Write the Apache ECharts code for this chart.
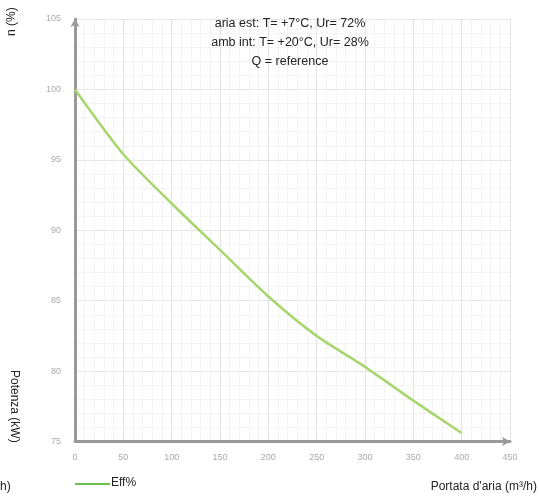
<!DOCTYPE html>
<html>
<head>
<meta charset="utf-8">
<script src="https://cdn.jsdelivr.net/npm/echarts@6/dist/echarts.min.js"></script>
<style>html,body{margin:0;padding:0;background:#fff}#c{width:539px;height:497px}</style>
</head>
<body>
<div id="c"></div>
<script>
const flow = [0, 50, 100, 150, 200, 250, 300, 350, 400];
const effValues = [100, 95.4, 91.9, 88.6, 85.3, 82.5, 80.3, 77.9, 75.6];
const seriesName = 'Eff%';
const infoLines = ['aria est: T= +7°C, Ur= 72%', 'amb int: T= +20°C, Ur= 28%', 'Q = reference'];
const xTitle = "Portata d'aria (m³/h)";
const yTitle = 'n (%)';
const y2Title = 'Potenza (kW)';

const chart = echarts.init(document.getElementById('c'));
const font = 'Liberation Sans, Arial, sans-serif';
chart.setOption({
  animation: false,
  grid: {left: 75, top: 19, width: 435, height: 422.5, containLabel: false},
  xAxis: {
    type: 'value', min: 0, max: 450, interval: 50,
    axisLine: {show: true, symbol: ['none', 'arrow'], symbolSize: [7, 8], lineStyle: {color: '#999', width: 3}},
    axisTick: {show: false},
    axisLabel: {color: '#aaa', fontSize: 9, fontFamily: font, margin: 12},
    splitLine: {show: true, lineStyle: {color: '#e4e4e4', width: 1}},
    minorTick: {show: false, splitNumber: 5},
    minorSplitLine: {show: true, lineStyle: {color: '#f3f3f3', width: 1}}
  },
  yAxis: {
    type: 'value', min: 75, max: 105, interval: 5,
    axisLine: {show: true, symbol: ['none', 'arrow'], symbolSize: [7, 8], lineStyle: {color: '#999', width: 3}},
    axisTick: {show: false},
    axisLabel: {color: '#aaa', fontSize: 9, fontFamily: font, margin: 14},
    splitLine: {show: true, lineStyle: {color: '#e4e4e4', width: 1}},
    minorSplitLine: {show: true, lineStyle: {color: '#f3f3f3', width: 1}}
  },
  series: [{
    name: seriesName, type: 'line', smooth: 0.25, showSymbol: false,
    data: flow.map((f, i) => [f, effValues[i]]),
    lineStyle: {color: '#a8d56e', width: 2.5}
  }],
  graphic: [
    {type: 'text', z: 100, x: 290, y: 14, style: {text: infoLines.join('\n'), textAlign: 'center', lineHeight: 19, fill: '#222', font: '12.5px ' + font}},
    {type: 'text', z: 100, x: 6, y: 36, rotation: Math.PI / 2, style: {text: yTitle, fill: '#222', font: '12px ' + font}},
    {type: 'text', z: 100, x: 20, y: 370, rotation: -Math.PI / 2, style: {text: y2Title, fill: '#222', font: '12px ' + font}},
    {type: 'text', z: 100, x: 0, y: 481, style: {text: 'h)', fill: '#222', font: '12px ' + font}},
    {type: 'line', z: 100, shape: {x1: 75, y1: 484, x2: 110, y2: 484}, style: {stroke: '#6dbf4f', lineWidth: 2}},
    {type: 'text', z: 100, x: 111, y: 477, style: {text: seriesName, fill: '#222', font: '12px ' + font}},
    {type: 'text', z: 100, x: 537, y: 481, style: {text: xTitle, fill: '#222', font: '12px ' + font, textAlign: 'right'}}
  ]
});
</script>
</body>
</html>
